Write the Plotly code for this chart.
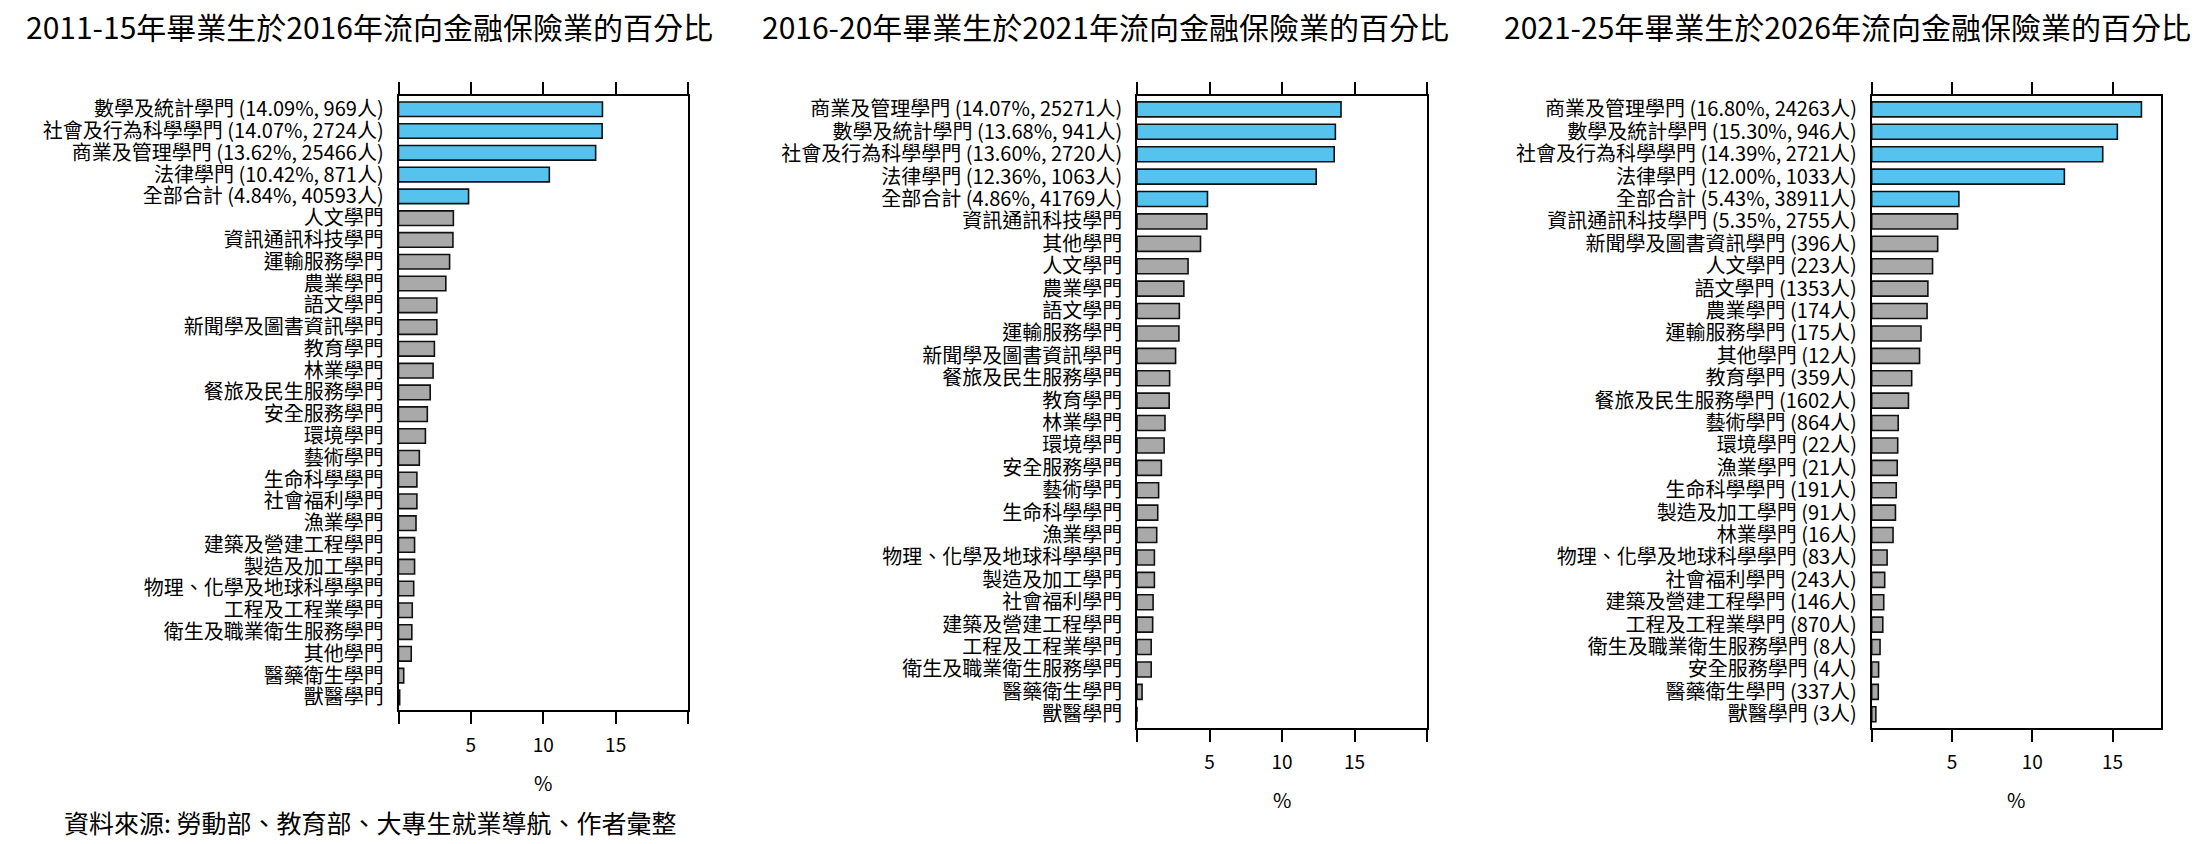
import plotly.graph_objects as go

# ---- data ----
titles = [
    "2011-15年畢業生於2016年流向金融保險業的百分比",
    "2016-20年畢業生於2021年流向金融保險業的百分比",
    "2021-25年畢業生於2026年流向金融保險業的百分比",
]

labels_2016 = [
    "數學及統計學門 (14.09%, 969人)", "社會及行為科學學門 (14.07%, 2724人)",
    "商業及管理學門 (13.62%, 25466人)", "法律學門 (10.42%, 871人)",
    "全部合計 (4.84%, 40593人)", "人文學門", "資訊通訊科技學門", "運輸服務學門",
    "農業學門", "語文學門", "新聞學及圖書資訊學門", "教育學門", "林業學門",
    "餐旅及民生服務學門", "安全服務學門", "環境學門", "藝術學門", "生命科學學門",
    "社會福利學門", "漁業學門", "建築及營建工程學門", "製造及加工學門",
    "物理、化學及地球科學學門", "工程及工程業學門", "衛生及職業衛生服務學門",
    "其他學門", "醫藥衛生學門", "獸醫學門",
]
pct_2016 = [14.09, 14.07, 13.62, 10.42, 4.84, 3.79, 3.76, 3.53, 3.27, 2.65,
            2.65, 2.48, 2.39, 2.19, 1.99, 1.86, 1.44, 1.27, 1.27, 1.21,
            1.11, 1.11, 1.05, 0.95, 0.92, 0.88, 0.36, 0.08]

labels_2021 = [
    "商業及管理學門 (14.07%, 25271人)", "數學及統計學門 (13.68%, 941人)",
    "社會及行為科學學門 (13.60%, 2720人)", "法律學門 (12.36%, 1063人)",
    "全部合計 (4.86%, 41769人)", "資訊通訊科技學門", "其他學門", "人文學門",
    "農業學門", "語文學門", "運輸服務學門", "新聞學及圖書資訊學門",
    "餐旅及民生服務學門", "教育學門", "林業學門", "環境學門", "安全服務學門",
    "藝術學門", "生命科學學門", "漁業學門", "物理、化學及地球科學學門",
    "製造及加工學門", "社會福利學門", "建築及營建工程學門", "工程及工程業學門",
    "衛生及職業衛生服務學門", "醫藥衛生學門", "獸醫學門",
]
pct_2021 = [14.07, 13.68, 13.60, 12.36, 4.86, 4.82, 4.38, 3.52, 3.23, 2.92,
            2.89, 2.66, 2.25, 2.22, 1.93, 1.87, 1.68, 1.49, 1.43, 1.36,
            1.20, 1.20, 1.11, 1.08, 0.98, 0.98, 0.35, 0.0]

labels_2026 = [
    "商業及管理學門 (16.80%, 24263人)", "數學及統計學門 (15.30%, 946人)",
    "社會及行為科學學門 (14.39%, 2721人)", "法律學門 (12.00%, 1033人)",
    "全部合計 (5.43%, 38911人)", "資訊通訊科技學門 (5.35%, 2755人)",
    "新聞學及圖書資訊學門 (396人)", "人文學門 (223人)", "語文學門 (1353人)",
    "農業學門 (174人)", "運輸服務學門 (175人)", "其他學門 (12人)",
    "教育學門 (359人)", "餐旅及民生服務學門 (1602人)", "藝術學門 (864人)",
    "環境學門 (22人)", "漁業學門 (21人)", "生命科學學門 (191人)",
    "製造及加工學門 (91人)", "林業學門 (16人)", "物理、化學及地球科學學門 (83人)",
    "社會福利學門 (243人)", "建築及營建工程學門 (146人)", "工程及工程業學門 (870人)",
    "衛生及職業衛生服務學門 (8人)", "安全服務學門 (4人)", "醫藥衛生學門 (337人)",
    "獸醫學門 (3人)",
]
pct_2026 = [16.80, 15.30, 14.39, 12.00, 5.43, 5.35, 4.11, 3.79, 3.50, 3.45,
            3.07, 2.98, 2.49, 2.29, 1.65, 1.62, 1.59, 1.53, 1.48, 1.33,
            0.96, 0.81, 0.75, 0.69, 0.52, 0.43, 0.41, 0.26]

n_highlight = 5          # first five rows drawn in blue
x_max = [20, 20, 18]
x_ticks = [[0, 5, 10, 15, 20], [0, 5, 10, 15, 20], [0, 5, 10, 15]]
source_note = "資料來源: 勞動部、教育部、大專生就業導航、作者彙整"

# ---- layout geometry (pixels) ----
W, H = 2209, 844
FONT = "Noto Sans CJK TC"
BLUE, GREY = "#56C2EE", "#A9A9A9"
px_x = [(398.5, 688.0), (1137.0, 1427.0), (1871.7, 2160.7)]
px_y = [(93.5, 710.0), (93.3, 727.3), (93.3, 727.3)]
title_x = [369, 1105, 1847]

fig = go.Figure()
all_labels = [labels_2016, labels_2021, labels_2026]
all_pct = [pct_2016, pct_2021, pct_2026]
annotations = []

for i in range(3):
    labels, pct = all_labels[i], all_pct[i]
    colors = [BLUE if k < n_highlight else GREY for k in range(len(labels))]
    sfx = "" if i == 0 else str(i + 1)
    fig.add_trace(go.Bar(
        x=pct, y=labels, orientation="h",
        marker=dict(color=colors, line=dict(color="#111111", width=1.6)),
        xaxis="x" + sfx, yaxis="y" + sfx, showlegend=False,
    ))
    n = len(labels)
    x0, x1 = px_x[i]
    y0, y1 = px_y[i]
    fig.layout["xaxis" + sfx] = dict(
        domain=[x0 / W, x1 / W], anchor="y" + sfx, range=[0, x_max[i]],
        tickmode="array", tickvals=x_ticks[i],
        ticktext=["" if v in (0, 20) else str(v) for v in x_ticks[i]],
        ticks="outside", ticklen=12, tickwidth=1.6, tickcolor="black",
        showline=True, linewidth=1.6, linecolor="black", mirror="allticks",
        showgrid=False, zeroline=False, ticklabelstandoff=5,
        tickfont=dict(family=FONT, size=19, color="black"),
    )
    fig.layout["yaxis" + sfx] = dict(
        domain=[1 - y1 / H, 1 - y0 / H], anchor="x" + sfx,
        type="category", categoryorder="array", categoryarray=labels,
        tickmode="array", tickvals=labels, ticktext=labels,
        range=[n - 1 + 0.6, -0.6],
        showline=True, linewidth=1.6, linecolor="black", mirror=True,
        ticks="", showgrid=False, zeroline=False, ticklabelstandoff=9,
        tickfont=dict(family=FONT, size=20, color="black"),
    )
    annotations.append(dict(
        text=titles[i], x=title_x[i] / W, y=1 - 23 / H, xref="paper", yref="paper",
        xanchor="center", yanchor="middle", showarrow=False,
        font=dict(family=FONT, size=30, color="black"),
    ))
    annotations.append(dict(
        text="%", x=(x0 + x1) / 2 / W, y=1 - (y1 + 72) / H, xref="paper", yref="paper",
        xanchor="center", yanchor="middle", showarrow=False,
        font=dict(family=FONT, size=20, color="black"),
    ))

annotations.append(dict(
    text=source_note, x=370 / W, y=1 - 822 / H, xref="paper", yref="paper",
    xanchor="center", yanchor="middle", showarrow=False,
    font=dict(family=FONT, size=25, color="black"),
))

fig.update_layout(
    width=W, height=H, margin=dict(l=0, r=0, t=0, b=0),
    paper_bgcolor="white", plot_bgcolor="white",
    bargap=0.33, annotations=annotations,
    font=dict(family=FONT, color="black"),
)

# drop the browser's default 8px body margin so the figure sits at (0, 0)
fig.write_html("out.html", config={"displayModeBar": False},
               post_script="document.body.style.margin='0';")
